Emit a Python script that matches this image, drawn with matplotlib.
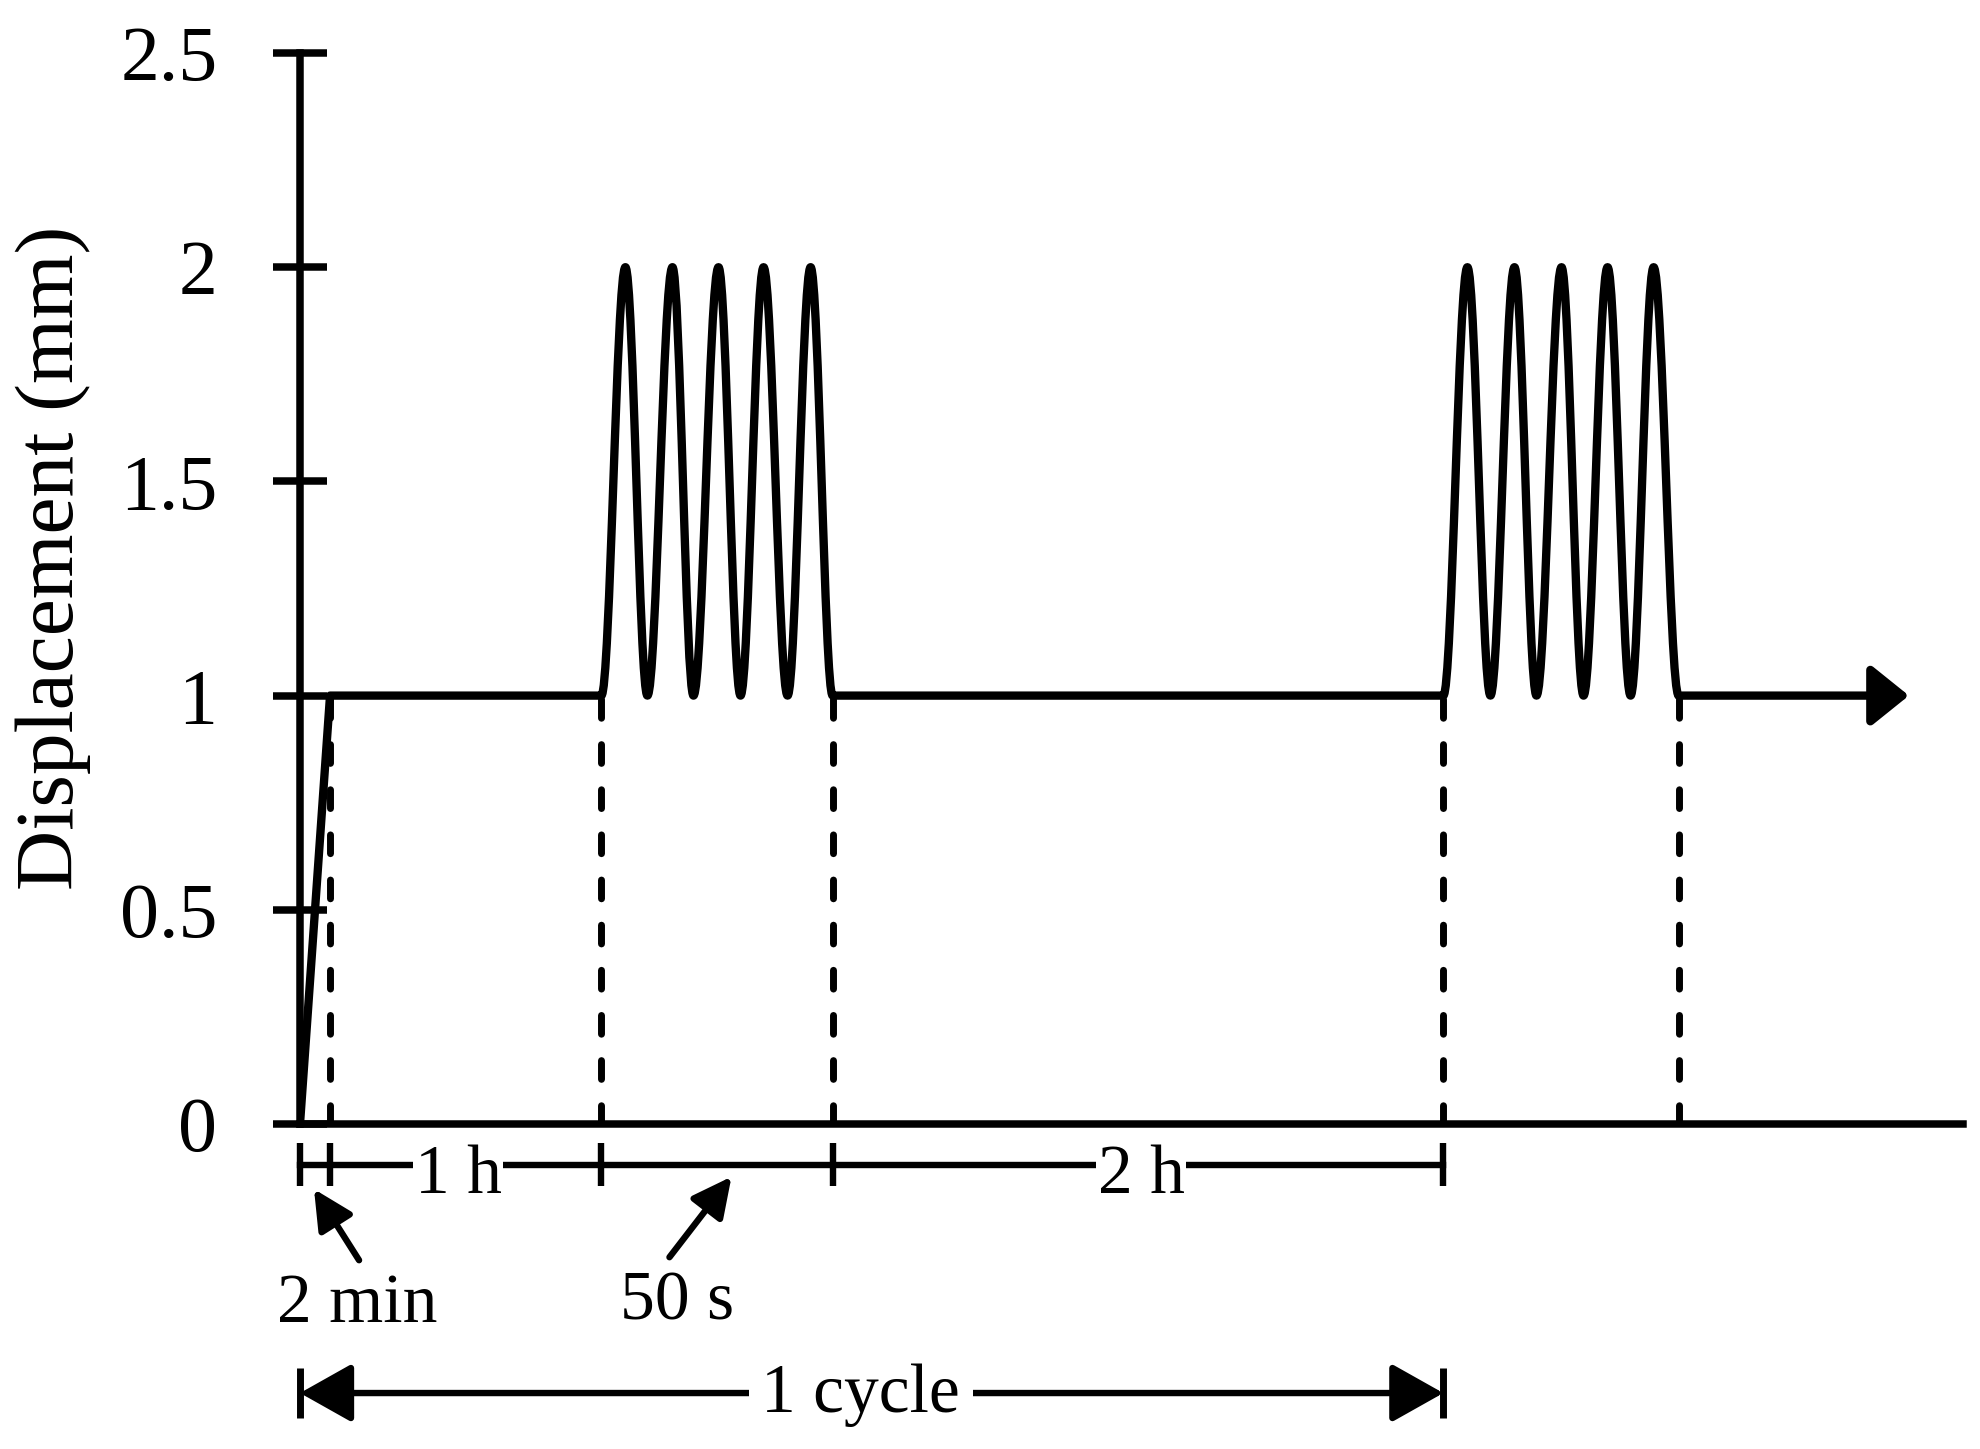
import numpy as np
import matplotlib
matplotlib.use('Agg')
import matplotlib.pyplot as plt
from matplotlib.path import Path
from matplotlib.patches import PathPatch

plt.rcParams['font.family'] = ['Liberation Serif', 'DejaVu Serif']

# schematic time positions (diagram is not to scale)
ramp_x = [0, 30]
ramp_y = [0, 1]
block1_x = [301, 325, 347, 372, 393, 418, 440, 463, 487, 510, 532]
block2_x = [1142, 1166, 1189, 1213, 1235, 1260, 1282, 1306, 1329, 1352, 1377]
block_y = [1, 2, 1, 2, 1, 2, 1, 2, 1, 2, 1]
arrow_end_x = 1607
axis_end_x = 1661
marker_x = [30, 301, 532, 1142, 1377]

yticks = [0, 0.5, 1, 1.5, 2, 2.5]
ytick_labels = ['0', '0.5', '1', '1.5', '2', '2.5']

# bracket annotations under the axis
bracket_x = [0, 30, 301, 532, 1142]
bracket_labels = ['1 h', '2 h']
bracket_label_x = [158, 840]
cycle_x = [0, 1142]

LW = 5.4


def block_path(xs, ys):
    # smooth half-wave between consecutive extremes (horizontal tangent at each)
    verts, codes = [], []
    for i in range(len(xs) - 1):
        x0, y0, x1, y1 = xs[i], ys[i], xs[i + 1], ys[i + 1]
        a = (x1 - x0) * (1 - 2 / np.pi)
        verts += [(x0 + a, y0), (x1 - a, y1), (x1, y1)]
        codes += [Path.CURVE4] * 3
    return verts, codes


fig = plt.figure(figsize=(19.8, 14.49), dpi=100)
ax = fig.add_axes([300 / 1980, 1 - 1124 / 1449, 1663 / 1980, (1124 - 53) / 1449])

# main loading path
verts = [(ramp_x[0], ramp_y[0]), (ramp_x[1], ramp_y[1]), (block1_x[0], 1)]
codes = [Path.MOVETO, Path.LINETO, Path.LINETO]
v, c = block_path(block1_x, block_y)
verts += v
codes += c
verts.append((block2_x[0], 1))
codes.append(Path.LINETO)
v, c = block_path(block2_x, block_y)
verts += v
codes += c
ax.add_patch(PathPatch(Path(verts, codes), fill=False, lw=6, ec='black',
                       joinstyle='round', capstyle='round', zorder=3))
ax.annotate('', xy=(arrow_end_x, 1), xytext=(block2_x[-1], 1),
            arrowprops=dict(arrowstyle='-|>,head_length=23,head_width=18.5',
                            lw=6, color='black', shrinkA=0, shrinkB=0,
                            mutation_scale=1))

# dashed markers
for xm in marker_x:
    ax.plot([xm, xm], [0, 1], color='black', lw=5,
            linestyle=(0, (2.7, 3.8)), dash_capstyle='round', zorder=2)

ax.set_xlim(0, axis_end_x)
ax.set_ylim(0, 2.5)
ax.set_yticks(yticks)
ax.set_yticklabels(ytick_labels)
ax.set_xticks([])
ax.tick_params(axis='y', direction='inout', length=39, width=LW, pad=40,
               labelsize=56)
for s in ['top', 'right']:
    ax.spines[s].set_visible(False)
for s in ['left', 'bottom']:
    ax.spines[s].set_linewidth(LW)
    ax.spines[s].set_zorder(4)

fig.text(0.027, 0.615, 'Displacement (mm)', rotation=90, ha='center',
         va='center', fontsize=60)

# time brackets
yb = -0.095
ax.plot([bracket_x[0], bracket_x[-1]], [yb, yb], color='black', lw=4.6,
        clip_on=False, zorder=2)
ax.vlines(bracket_x, yb - 0.05, yb + 0.05, color='black', lw=4.6,
          clip_on=False, zorder=2)
for lx, lab in zip(bracket_label_x, bracket_labels):
    ax.text(lx, -0.160, lab, ha='center', va='baseline', fontsize=50,
            bbox=dict(fc='white', ec='none', pad=1), zorder=2.2)

ax.annotate('', xy=(14, -0.152), xytext=(59, -0.318), annotation_clip=False,
            arrowprops=dict(arrowstyle='-|>,head_length=24,head_width=12',
                            lw=4.6, color='black', shrinkA=0, shrinkB=0,
                            mutation_scale=1))
ax.text(57, -0.462, '2 min', ha='center', va='baseline', fontsize=50)

ax.annotate('', xy=(431, -0.123), xytext=(369, -0.311), annotation_clip=False,
            arrowprops=dict(arrowstyle='-|>,head_length=24,head_width=12',
                            lw=4.6, color='black', shrinkA=0, shrinkB=0,
                            mutation_scale=1))
ax.text(377, -0.457, '50 s', ha='center', va='baseline', fontsize=50)

# one cycle span
yc = -0.628
ax.annotate('', xy=(cycle_x[0], yc), xytext=(cycle_x[1], yc),
            annotation_clip=False,
            arrowprops=dict(arrowstyle='<|-|>,head_length=32,head_width=18',
                            lw=4.6, color='black', shrinkA=0, shrinkB=0,
                            mutation_scale=1))
ax.vlines(cycle_x, yc - 0.058, yc + 0.058, color='black', lw=5,
          clip_on=False)
ax.text(560, -0.672, '1 cycle', ha='center', va='baseline', fontsize=50,
        bbox=dict(fc='white', ec='none', pad=9), zorder=3)

fig.savefig('out.png', dpi=100)
